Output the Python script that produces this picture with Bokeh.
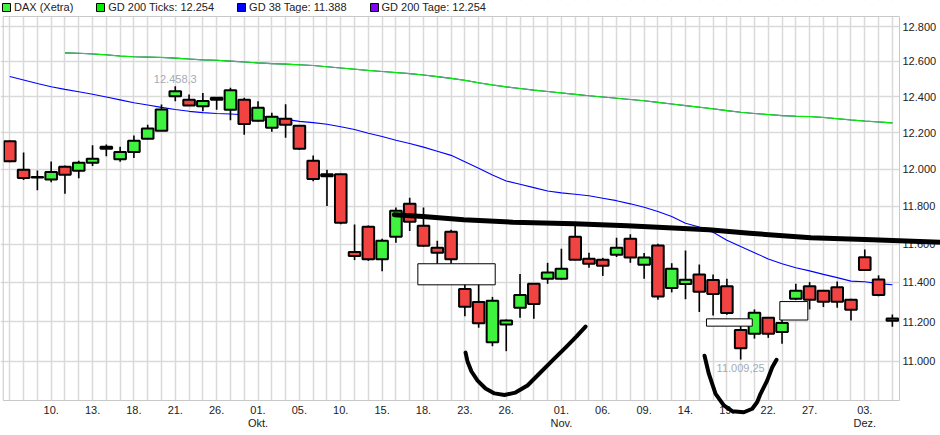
import math
from bokeh.plotting import figure
from bokeh.models import (FixedTicker, Range1d, Legend, LegendItem, PolyAnnotation,
                          BoxAnnotation, ColumnDataSource, LabelSet, Grid, LogScale)
from bokeh.core.properties import value
from bokeh.embed import file_html
from bokeh.resources import INLINE

FONT = "Liberation Sans"

# ---------------- data ----------------
tick_idx = [3, 6, 9, 12, 15, 18, 21, 24, 27, 30, 33, 36, 40, 43, 46, 49, 52, 55, 58, 62]
tick_labels = ["10.", "13.", "18.", "21.", "26.", "01.", "05.", "10.", "15.", "18.",
               "23.", "26.", "01.", "06.", "09.", "14.", "19.", "22.", "27.", "03."]
month_idx = [18, 40, 62]
month_labels = ["Okt.", "Nov.", "Dez."]

opens = [12152, 11996, 11955, 11944, 12013, 11991, 12035, 12111, 12054, 12094,
         12166, 12210, 12402, 12383, 12347, 12394, 12327, 12383, 12265, 12227,
         12277, 12238, 12045, 11961, 11972, 11559, 11691, 11521, 11638, 11813,
         11696, 11580, 11665, 11367, 11300, 11096, 11185, 11270, 11393, 11419,
         11419, 11638, 11523, 11518, 11544, 11628, 11492, 11592, 11372, 11392,
         11441, 11413, 11381, 11158, 11138, 11219, 11147, 11316, 11381, 11357,
         11376, 11311, 11531, 11416, 11204]
highs = [12157, 12090, 11993, 12041, 12020, 12045, 12130, 12135, 12122, 12184,
         12244, 12356, 12458.3, 12412, 12421, 12397, 12450, 12394, 12374, 12310,
         12357, 12240, 12074, 11996, 11975, 11703, 11698, 11628, 11793, 11845,
         11793, 11617, 11675, 11393, 11393, 11326, 11211, 11444, 11396, 11502,
         11575, 11696, 11554, 11528, 11633, 11651, 11553, 11601, 11500, 11566,
         11493, 11441, 11419, 11189, 11262, 11222, 11240, 11393, 11402, 11362,
         11405, 11316, 11571, 11437, 11236]
lows = [12038, 11941, 11886, 11929, 11867, 11950, 12017, 12070, 12040, 12060,
        12164, 12208, 12374, 12349, 12319, 12327, 12268, 12188, 12260, 12205,
        12171, 12105, 11934, 11802, 11705, 11516, 11512, 11458, 11607, 11669,
        11586, 11497, 11497, 11227, 11169, 11076, 11051, 11220, 11215, 11393,
        11415, 11515, 11476, 11434, 11532, 11502, 11419, 11311, 11349, 11314,
        11249, 11231, 11235, 11009.25, 11114, 11118, 11088, 11310, 11262, 11274,
        11271, 11206, 11462, 11329, 11174]
closes = [12043, 11952, 11958, 11985, 11969, 12035, 12057, 12122, 12094, 12155,
          12222, 12328, 12430, 12351, 12375, 12383, 12436, 12248, 12338, 12288,
          12243, 12111, 11946, 11972, 11712, 11537, 11521, 11617, 11776, 11717,
          11591, 11554, 11521, 11275, 11192, 11306, 11205, 11336, 11290, 11451,
          11471, 11518, 11497, 11487, 11580, 11529, 11529, 11328, 11471, 11414,
          11352, 11341, 11244, 11066, 11245, 11138, 11193, 11357, 11311, 11301,
          11301, 11260, 11465, 11336, 11216]

gd200_first = 4
gd200_ticks = [12648, 12646, 12642, 12637, 12630, 12626, 12624, 12622, 12618, 12613,
               12608, 12606, 12601, 12596, 12591, 12587, 12584, 12580, 12576, 12569,
               12562, 12555, 12548, 12542, 12536, 12530, 12522, 12513, 12503, 12492,
               12478, 12466, 12455, 12446, 12437, 12429, 12421, 12413, 12405, 12398,
               12391, 12384, 12377, 12368, 12359, 12350, 12341, 12332, 12322, 12313,
               12306, 12300, 12294, 12291, 12289, 12284, 12277, 12270, 12264, 12259,
               12254]
gd200_tage = gd200_ticks
gd38 = [12514, 12494, 12474, 12456, 12441, 12428, 12414, 12398, 12382, 12366,
        12353, 12340, 12328, 12318, 12311, 12306, 12303, 12299, 12292, 12285,
        12273, 12262, 12255, 12246, 12232, 12217, 12196, 12178, 12158, 12140,
        12120, 12098, 12075, 12040, 12005, 11968, 11936, 11918, 11900, 11882,
        11872, 11864, 11856, 11843, 11830, 11813, 11795, 11772, 11746, 11710,
        11690, 11662, 11620, 11587, 11555, 11522, 11497, 11476, 11460, 11442,
        11425, 11407, 11404, 11394, 11388]

price_ticks = [11000, 11200, 11400, 11600, 11800, 12000, 12200, 12400, 12600, 12800]
price_labels = ["11.000", "11.200", "11.400", "11.600", "11.800", "12.000", "12.200",
                "12.400", "12.600", "12.800"]

extreme_idx = [12, 53]
extreme_val = [12458.3, 11009.25]
extreme_txt = ["12.458,3", "11.009,25"]

# hand-drawn annotations (candle index, price)
trend_x = [27.89, 29.96, 32.92, 36.48, 40.92, 44.77, 47.73, 50.69, 53.65, 58.09, 62.54, 67.49]
trend_y = [11755, 11746, 11728, 11715, 11707, 11696, 11686, 11675, 11657, 11633, 11622, 11610]
arc1_x = [33.05, 33.19, 33.48, 33.92, 34.50, 35.15, 35.87, 36.67, 37.54, 38.48, 39.43, 40.30, 41.10, 41.75]
arc1_y = [11044, 11000, 10950, 10905, 10866, 10842, 10834, 10846, 10881, 10945, 11010, 11069, 11125, 11175]
arc2_x = [50.38, 50.69, 51.18, 51.78, 52.39, 53.23, 53.84, 54.20, 54.44, 54.92, 55.29, 55.60]
arc2_y = [11028, 10939, 10840, 10783, 10755, 10750, 10767, 10800, 10840, 10905, 10971, 11008]
boxes = [(29.59, 35.20, 11388, 11497), (50.52, 53.84, 11177, 11214), (55.84, 57.87, 11208, 11302)]

RED = "#f24343"
GREEN = "#3ef23e"
MA200_GREEN = "#00f000"
W, H = 940, 435


# page-pixel -> data helpers (layout only)
def X(px):
    return (px - 9.3) / 13.79


def P(py):
    return 12800 * math.exp(-(py - 26) / 2210)


def de(v):
    return f"{v:,.0f}".replace(",", ".")


PANEL_L, PANEL_R, PANEL_T, PANEL_B = X(2.7), X(899), P(16), P(400)

# ---------------- figure ----------------
p = figure(width=W, height=H, x_range=Range1d(X(0), X(W)), y_range=Range1d(P(H), P(0)),
           y_axis_type="log", x_axis_location=None, y_axis_location=None,
           output_backend="svg", toolbar_location=None,
           min_border_left=0, min_border_right=0, min_border_top=0, min_border_bottom=0)
p.y_scale = LogScale()
p.background_fill_color = "white"
p.border_fill_color = "white"
p.outline_line_color = None
for g in list(p.grid):
    g.visible = False

p.add_layout(Grid(dimension=0, ticker=FixedTicker(ticks=list(range(len(opens)))),
                  grid_line_color="#dadada", grid_line_width=1.5))
p.add_layout(Grid(dimension=1, ticker=FixedTicker(ticks=price_ticks),
                  grid_line_color="#dadada", grid_line_width=1.5))

idx = list(range(len(opens)))
up = [c >= o for o, c in zip(opens, closes)]
src = ColumnDataSource(dict(
    x=idx, high=highs, low=lows,
    top=[max(o, c) for o, c in zip(opens, closes)],
    bottom=[min(o, c) for o, c in zip(opens, closes)],
    color=[GREEN if u else RED for u in up]))

# moving averages
ma_x = list(range(gd200_first, gd200_first + len(gd200_ticks)))
p.line(ma_x, gd200_tage, line_color="#8000ff", line_width=1.1)
p.line(ma_x, gd200_ticks, line_color=MA200_GREEN, line_width=1.2)
p.line(idx, gd38, line_color="#0000ff", line_width=1.1)

p.segment(x0="x", x1="x", y0="low", y1="high", source=src, line_color="black", line_width=1.6)
p.vbar(x="x", top="top", bottom="bottom", width=0.84, source=src, fill_color="color",
       line_color="black", line_width=2)

# extreme labels
p.text(x=[extreme_idx[0]], y=[extreme_val[0]], text=[extreme_txt[0]], text_align="center",
       text_baseline="bottom", y_offset=-3, text_color="#a3abb6", text_font_size="11px",
       text_font=value(FONT))
p.text(x=[extreme_idx[1]], y=[extreme_val[1]], text=[extreme_txt[1]], text_align="center",
       text_baseline="top", y_offset=4, text_color="#a3abb6", text_font_size="11px",
       text_font=value(FONT))


# legend proxies (hidden under the legend strip)
def proxy(color):
    return p.vbar(x=[30], top=[P(6)], bottom=[P(9)], width=0.8, fill_color=color,
                  line_color="black", line_width=1)


proxies = [proxy(GREEN), proxy(MA200_GREEN), proxy("#0000ff"), proxy("#8000ff")]

# white margins around the chart panel, then the panel border
p.add_layout(BoxAnnotation(bottom=PANEL_T, fill_color="white", fill_alpha=1, line_alpha=0))
p.add_layout(BoxAnnotation(top=PANEL_B, fill_color="white", fill_alpha=1, line_alpha=0))
p.add_layout(BoxAnnotation(left=PANEL_R, fill_color="white", fill_alpha=1, line_alpha=0))
p.add_layout(BoxAnnotation(left=PANEL_L, right=PANEL_R, bottom=PANEL_B, top=PANEL_T,
                           fill_alpha=0, line_color="#c8c8c8", line_alpha=1, line_width=1))

# axis labels
lab_style = dict(text_font=value(FONT), text_font_size="11px", text_color="#222222",
                 text_baseline="middle")
day_src = ColumnDataSource(dict(x=tick_idx, y=[P(409)] * len(tick_idx), text=tick_labels))
mon_src = ColumnDataSource(dict(x=month_idx, y=[P(422)] * len(month_idx), text=month_labels))
prc_src = ColumnDataSource(dict(x=[X(902)] * len(price_ticks), y=price_ticks, text=price_labels))
p.add_layout(LabelSet(x="x", y="y", text="text", source=day_src, text_align="center", **lab_style))
p.add_layout(LabelSet(x="x", y="y", text="text", source=mon_src, text_align="center", **lab_style))
p.add_layout(LabelSet(x="x", y="y", text="text", source=prc_src, text_align="left", **lab_style))

# hand-drawn marks
for (l, r, b, t) in boxes:
    p.add_layout(BoxAnnotation(left=l, right=r, bottom=b, top=t, fill_color="white",
                               fill_alpha=1, line_color="black", line_alpha=1, line_width=1))
for xs, ys, w in ((trend_x, trend_y, 5), (arc1_x, arc1_y, 4), (arc2_x, arc2_y, 4)):
    p.add_layout(PolyAnnotation(xs=xs + xs[::-1], ys=ys + ys[::-1], fill_alpha=0,
                                line_color="black", line_alpha=1, line_width=w,
                                line_join="round"))

items = [
    LegendItem(label="DAX (Xetra)", renderers=[proxies[0]]),
    LegendItem(label=f"GD 200 Ticks: {de(gd200_ticks[-1])}", renderers=[proxies[1]]),
    LegendItem(label=f"GD 38 Tage: {de(gd38[-1])}", renderers=[proxies[2]]),
    LegendItem(label=f"GD 200 Tage: {de(gd200_tage[-1])}", renderers=[proxies[3]]),
]
legend = Legend(items=items, orientation="horizontal", location="top_left",
                glyph_width=10, glyph_height=10, label_standoff=3, spacing=22,
                label_text_font=FONT, label_text_font_size="11px", label_text_color="#222222",
                label_height=12, padding=0, margin=1, border_line_color=None,
                background_fill_alpha=0)
p.add_layout(legend)

open("out.html", "w").write(file_html(p, INLINE))
